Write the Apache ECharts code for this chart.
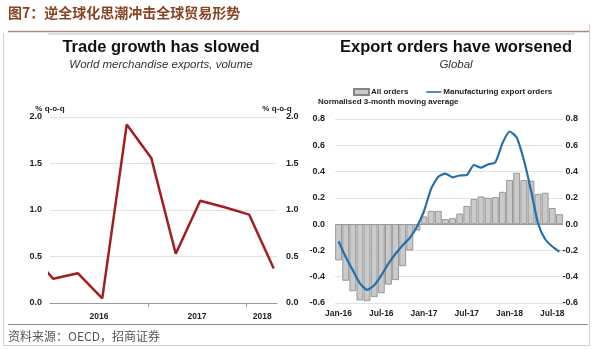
<!DOCTYPE html>
<html>
<head>
<meta charset="utf-8">
<script src="https://cdn.jsdelivr.net/npm/echarts@6/dist/echarts.min.js"></script>
<style>
html,body{margin:0;padding:0;background:#fff;}
#c{width:599px;height:349px;}
</style>
</head>
<body>
<div id="c"></div>
<script>
// ---- Data ----
const figTitle = '图7：逆全球化思潮冲击全球贸易形势';
const source = '资料来源：OECD，招商证券';

// Left chart: world merchandise exports, volume (% q-o-q)
const tradeQuarters = ['2015Q4','2016Q1','2016Q2','2016Q3','2016Q4','2017Q1','2017Q2','2017Q3','2017Q4','2018Q1','2018Q2'];
const tradeGrowth   = [0.56, 0.26, 0.32, 0.05, 1.92, 1.56, 0.53, 1.10, 1.03, 0.95, 0.37];
const yearLabels    = ['2016','2017','2018'];
const yearLabelMonth = [6, 18, 26];   // month index (from Jan-2016) where year labels sit
const yearBoundaryMonth = [12, 24];

// Right chart: export orders (normalised 3-month moving average)
const months = ['Jan-16','Feb-16','Mar-16','Apr-16','May-16','Jun-16','Jul-16','Aug-16','Sep-16','Oct-16','Nov-16','Dec-16',
                'Jan-17','Feb-17','Mar-17','Apr-17','May-17','Jun-17','Jul-17','Aug-17','Sep-17','Oct-17','Nov-17','Dec-17',
                'Jan-18','Feb-18','Mar-18','Apr-18','May-18','Jun-18','Jul-18','Aug-18'];
const allOrders = [-0.275,-0.43,-0.51,-0.58,-0.585,-0.555,-0.525,-0.46,-0.425,-0.32,-0.2,-0.048,
                   0.058,0.10,0.10,0.038,0.045,0.08,0.138,0.19,0.21,0.20,0.205,0.245,
                   0.335,0.39,0.335,0.33,0.23,0.238,0.122,0.075];
const mfgExportOrders = [-0.13,-0.25,-0.35,-0.45,-0.50,-0.465,-0.39,-0.30,-0.225,-0.16,-0.105,-0.02,
                   0.10,0.27,0.36,0.385,0.356,0.37,0.374,0.45,0.43,0.455,0.47,0.615,
                   0.705,0.66,0.49,0.26,0.005,-0.115,-0.17,-0.21];

// ---- Helpers ----
function quarterToMonth(q){
  const yr = parseInt(q.slice(0,4),10), qq = parseInt(q.slice(5),10);
  return (yr-2016)*12 + (qq-1)*3 + 0.4;
}
const tradeData = tradeQuarters.map((q,i)=>[quarterToMonth(q), tradeGrowth[i]]);

const SANS = "'Liberation Sans',Arial,sans-serif";
const numStyle = {fontFamily: SANS, fontWeight: 'bold', fontSize: 9, color: '#222'};
const catStyle = {fontFamily: SANS, fontWeight: 'bold', fontSize: 8.5, color: '#222'};
const smallBold = {fontFamily: SANS, fontSize: 8, fontWeight: 'bold', color: '#222'};
const gridLine = {show: true, lineStyle: {color: '#e2e2e2', width: 1}};

const chart = echarts.init(document.getElementById('c'), null, {renderer: 'canvas'});
const option = {
  animation: false,
  backgroundColor: '#fff',
  title: [
    {text: figTitle, left: 8, top: 6, padding: 0,
     textStyle: {fontFamily: "'Noto Sans CJK SC',sans-serif", fontSize: 14, fontWeight: 'bold', color: '#8a4424'}},
    {text: 'Trade growth has slowed', subtext: 'World merchandise exports, volume',
     left: 161, textAlign: 'center', top: 39, padding: 0, itemGap: 3,
     textStyle: {fontFamily: SANS, fontSize: 16.5, fontWeight: 'bold', color: '#111'},
     subtextStyle: {fontFamily: SANS, fontSize: 11.5, fontStyle: 'italic', color: '#333'}},
    {text: 'Export orders have worsened', subtext: 'Global',
     left: 456, textAlign: 'center', top: 39, padding: 0, itemGap: 3,
     textStyle: {fontFamily: SANS, fontSize: 16.5, fontWeight: 'bold', color: '#111'},
     subtextStyle: {fontFamily: SANS, fontSize: 11.5, fontStyle: 'italic', color: '#333'}},
    {text: 'Normalised 3-month moving average', left: 318, top: 98, padding: 0,
     textStyle: smallBold},
    {text: source, left: 8, top: 330, padding: 0,
     textStyle: {fontFamily: "'Noto Sans CJK SC',sans-serif", fontSize: 12, fontWeight: 'normal', color: '#555'}}
  ],
  legend: {
    left: 353, top: 88, padding: 0, itemWidth: 15, itemHeight: 6, itemGap: 18,
    textStyle: Object.assign({padding: [0,0,0,-3]}, smallBold),
    data: [{name: 'All orders', icon: 'rect'},
           {name: 'Manufacturing export orders', icon: 'path://M0,2.2L15,2.2L15,3.8L0,3.8Z'}]
  },
  grid: [
    {left: 50, top: 117, width: 227, height: 186},
    {left: 335, top: 119, width: 228, height: 184}
  ],
  xAxis: [
    {gridIndex: 0, type: 'value', min: 0, max: 27.8,
     axisLine: {show: true, onZero: true, lineStyle: {color: '#999', width: 1}},
     axisTick: {show: true, customValues: yearBoundaryMonth, length: 4, lineStyle: {color: '#999'}},
     axisLabel: Object.assign({show: true, customValues: yearLabelMonth, margin: 9,
       formatter: v => { const i = yearLabelMonth.indexOf(v); return i >= 0 ? yearLabels[i] : ''; }}, catStyle),
     splitLine: {show: false}},
    {gridIndex: 1, type: 'category', data: months, boundaryGap: true,
     axisLine: {show: false, onZero: false}, axisTick: {show: false},
     axisLabel: Object.assign({interval: 5, margin: 6}, catStyle),
     splitLine: {show: false}}
  ],
  yAxis: [
    {gridIndex: 0, type: 'value', min: 0, max: 2, interval: 0.5, position: 'left',
     name: '% q-o-q', nameLocation: 'end', nameGap: 2,
     nameTextStyle: smallBold,
     axisLine: {show: false}, axisTick: {show: false},
     axisLabel: Object.assign({margin: 8, formatter: v => v.toFixed(1)}, numStyle),
     splitLine: gridLine},
    {gridIndex: 0, type: 'value', min: 0, max: 2, interval: 0.5, position: 'right',
     name: '% q-o-q', nameLocation: 'end', nameGap: 2,
     nameTextStyle: smallBold,
     axisLine: {show: false}, axisTick: {show: false},
     axisLabel: Object.assign({margin: 9, formatter: v => v.toFixed(1)}, numStyle),
     splitLine: {show: false}},
    {gridIndex: 1, type: 'value', min: -0.6, max: 0.8, interval: 0.2, position: 'left',
     axisLine: {show: false}, axisTick: {show: false},
     axisLabel: Object.assign({margin: 10, formatter: v => v.toFixed(1)}, numStyle),
     splitLine: gridLine},
    {gridIndex: 1, type: 'value', min: -0.6, max: 0.8, interval: 0.2, position: 'right',
     axisLine: {show: false}, axisTick: {show: false},
     axisLabel: Object.assign({margin: 15, align: 'right', formatter: v => v.toFixed(1)}, numStyle),
     splitLine: {show: false}}
  ],
  series: [
    {name: 'World merchandise exports', type: 'line', xAxisIndex: 0, yAxisIndex: 0,
     data: tradeData, symbol: 'none', clip: true,
     lineStyle: {color: '#a31d23', width: 2.5}},
    {name: 'All orders', type: 'bar', xAxisIndex: 1, yAxisIndex: 2,
     data: allOrders, barCategoryGap: '6%',
     itemStyle: {color: '#cacaca', borderColor: '#858585', borderWidth: 0.8},
     markLine: {silent: true, symbol: 'none', label: {show: false},
       lineStyle: {color: '#9a9a9a', width: 1, type: 'solid'}, data: [{yAxis: 0}]}},
    {name: 'Manufacturing export orders', type: 'line', xAxisIndex: 1, yAxisIndex: 2,
     data: mfgExportOrders, symbol: 'none', smooth: 0.2, z: 5,
     itemStyle: {color: '#2470ad'},
     lineStyle: {color: '#2470ad', width: 2.2}}
  ],
  graphic: [
    {type: 'line', shape: {x1: 8, y1: 31.5, x2: 590, y2: 31.5}, style: {stroke: '#a88a7c', lineWidth: 1.5}, silent: true},
    {type: 'line', shape: {x1: 48, y1: 34, x2: 575, y2: 34}, style: {stroke: '#d6d6d6', lineWidth: 1.5}, silent: true},
    {type: 'line', shape: {x1: 8, y1: 324.5, x2: 588, y2: 324.5}, style: {stroke: '#9a857a', lineWidth: 1}, silent: true},
    {type: 'line', shape: {x1: 3.5, y1: 33, x2: 3.5, y2: 345.5}, style: {stroke: '#cfcfcf', lineWidth: 1}, silent: true},
    {type: 'line', shape: {x1: 589.5, y1: 24, x2: 589.5, y2: 345.5}, style: {stroke: '#cfcfcf', lineWidth: 1}, silent: true},
    {type: 'line', shape: {x1: 3.5, y1: 345.5, x2: 589.5, y2: 345.5}, style: {stroke: '#cfcfcf', lineWidth: 1}, silent: true}
  ]
};
chart.setOption(option);
</script>
</body>
</html>
